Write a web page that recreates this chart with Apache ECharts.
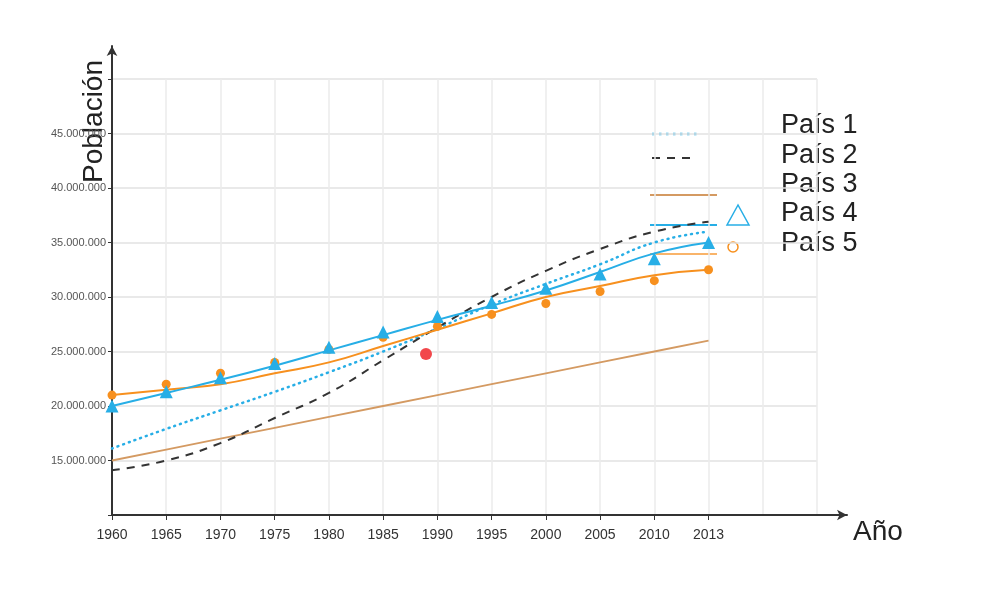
<!DOCTYPE html>
<html>
<head>
<meta charset="utf-8">
<script src="https://cdn.jsdelivr.net/npm/echarts@6/dist/echarts.min.js"></script>
<style>
  html, body { margin: 0; padding: 0; background: #fff; }
  #main { width: 1000px; height: 596px; }
</style>
</head>
<body>
<div id="main"></div>
<script>
// años (dos columnas vacías al final)
var years = ['1960', '1965', '1970', '1975', '1980', '1985', '1990', '1995', '2000', '2005', '2010', '2013', '', ''];

// población en millones
var pais1 = [16.1, 17.9, 19.6, 21.3, 23.1, 25.0, 27.1, 29.3, 31.2, 33.0, 35.0, 36.0];
var pais2 = [14.1, 15.0, 16.6, 18.9, 21.2, 24.2, 27.2, 30.0, 32.4, 34.4, 36.0, 36.9];
var pais3 = [15.0, 16.0, 17.0, 18.0, 19.0, 20.0, 21.0, 22.0, 23.0, 24.0, 25.0, 26.0];
var pais4Linea = [20.0, 21.2, 22.4, 23.7, 25.1, 26.5, 27.9, 29.2, 30.6, 32.3, 34.0, 35.0];
var pais4Puntos = [20.0, 21.3, 22.6, 23.9, 25.4, 26.8, 28.2, 29.5, 30.8, 32.1, 33.5, 35.0];
var pais5Linea = [21.0, 21.5, 22.0, 23.0, 24.0, 25.5, 27.0, 28.5, 30.0, 31.0, 32.0, 32.5];
var pais5Puntos = [21.0, 22.0, 23.0, 24.0, 25.2, 26.3, 27.3, 28.4, 29.4, 30.5, 31.5, 32.5];
// punto rojo suelto (posición en el eje de años, millones)
var puntoRojo = [[5.79, 24.76]];

var azul = '#27aee6';
var naranja = '#f7901e';
var marron = '#d49a62';

function miles(v) {
    return String(Math.round(v * 1e6)).replace(/\B(?=(\d{3})+(?!\d))/g, '.');
}

var myChart = echarts.init(document.getElementById('main'));
var option = {
    backgroundColor: '#fff',
    animation: false,
    textStyle: { fontFamily: 'Liberation Sans, Arial, sans-serif' },
    grid: [
        { left: 112, top: 79, width: 705, height: 436 },
        { left: 112, top: 46, width: 735, height: 469 }
    ],
    xAxis: [
        {
            type: 'category', gridIndex: 0, data: years, boundaryGap: false,
            axisLine: { lineStyle: { color: '#333', width: 2 } },
            axisTick: {
                length: 5, lineStyle: { color: '#333' },
                interval: function (i, v) { return v !== ''; }
            },
            axisLabel: { color: '#333', fontSize: 14, margin: 13, interval: 0 },
            splitLine: { show: true, lineStyle: { color: '#ebebeb', width: 1.5 } }
        },
        {
            type: 'value', gridIndex: 1, min: 0, max: 1,
            axisLine: { show: true, symbol: ['none', 'arrow'], symbolSize: [8, 10], lineStyle: { color: '#333', width: 2 } },
            axisTick: { show: false }, axisLabel: { show: false }, splitLine: { show: false }
        },
        {
            type: 'value', gridIndex: 0, min: 0, max: 13, show: false
        }
    ],
    yAxis: [
        {
            type: 'value', gridIndex: 0, min: 10, max: 50, interval: 5,
            axisLine: { show: true, lineStyle: { color: '#333', width: 2 } },
            axisTick: { show: true, length: 4, lineStyle: { color: '#333' } },
            axisLabel: {
                color: '#555', fontSize: 11, margin: 6,
                formatter: function (v) { return (v === 10 || v === 50) ? '' : miles(v); }
            },
            splitLine: { lineStyle: { color: '#e2e2e2', width: 1.5 } }
        },
        {
            type: 'value', gridIndex: 1, min: 0, max: 1,
            axisLine: { show: true, symbol: ['none', 'arrow'], symbolSize: [8, 10], lineStyle: { color: '#333', width: 2 } },
            axisTick: { show: false }, axisLabel: { show: false }, splitLine: { show: false }
        }
    ],
    series: [
        {
            name: 'País 3', type: 'line', data: pais3, showSymbol: false,
            lineStyle: { color: marron, width: 1.8 }, z: 2
        },
        {
            name: 'País 1', type: 'line', data: pais1, smooth: true, showSymbol: false,
            lineStyle: { color: azul, width: 2.5, type: [1, 5], cap: 'round' }, z: 3
        },
        {
            name: 'País 2', type: 'line', data: pais2, smooth: true, showSymbol: false,
            lineStyle: { color: '#333', width: 2, type: [8, 7] }, z: 3
        },
        {
            name: 'País 5', type: 'line', data: pais5Linea, smooth: true, showSymbol: false,
            lineStyle: { color: naranja, width: 2 }, z: 4
        },
        {
            name: 'País 4', type: 'line', data: pais4Linea, smooth: true, showSymbol: false,
            lineStyle: { color: azul, width: 2 }, z: 4
        },
        {
            name: 'País 5 puntos', type: 'scatter', data: pais5Puntos,
            symbol: 'circle', symbolSize: 9, itemStyle: { color: naranja, opacity: 1 }, z: 5
        },
        {
            name: 'País 4 puntos', type: 'scatter', data: pais4Puntos,
            symbol: 'triangle', symbolSize: 13, itemStyle: { color: azul, opacity: 1 }, z: 6
        },
        {
            name: 'Punto', type: 'scatter', xAxisIndex: 2, data: puntoRojo,
            symbolSize: 12, itemStyle: { color: '#f2474b', opacity: 1 }, z: 6
        }
    ],
    graphic: [
        { type: 'text', left: 80, top: 60, rotation: Math.PI / 2, style: { text: 'Población', fontSize: 28, fill: '#222', fontFamily: 'Liberation Sans' } },
        { type: 'text', left: 853, top: 518, style: { text: 'Año', fontSize: 28, fill: '#222', fontFamily: 'Liberation Sans' } },
        // leyenda
        { type: 'line', shape: { x1: 652, y1: 134, x2: 697, y2: 134 }, style: { stroke: azul, lineWidth: 2.5, lineDash: [2.5, 4.5] } },
        { type: 'line', shape: { x1: 652, y1: 158, x2: 697, y2: 158 }, style: { stroke: '#333', lineWidth: 2, lineDash: [8, 7] } },
        { type: 'line', shape: { x1: 650, y1: 195, x2: 717, y2: 195 }, style: { stroke: marron, lineWidth: 1.8 } },
        { type: 'line', shape: { x1: 650, y1: 225, x2: 717, y2: 225 }, style: { stroke: azul, lineWidth: 2 } },
        { type: 'polygon', shape: { points: [[738, 205], [727, 225], [749, 225]] }, style: { stroke: azul, fill: 'none', lineWidth: 1.5 } },
        { type: 'line', shape: { x1: 650, y1: 254, x2: 717, y2: 254 }, style: { stroke: '#f9b46a', lineWidth: 2 } },
        { type: 'circle', shape: { cx: 733, cy: 247, r: 5 }, style: { stroke: naranja, fill: 'none', lineWidth: 1.5 } },
        { type: 'text', left: 781, top: 112, style: { text: 'País 1', fontSize: 27, fill: '#222', fontFamily: 'Liberation Sans' } },
        { type: 'text', left: 781, top: 142, style: { text: 'País 2', fontSize: 27, fill: '#222', fontFamily: 'Liberation Sans' } },
        { type: 'text', left: 781, top: 171, style: { text: 'País 3', fontSize: 27, fill: '#222', fontFamily: 'Liberation Sans' } },
        { type: 'text', left: 781, top: 200, style: { text: 'País 4', fontSize: 27, fill: '#222', fontFamily: 'Liberation Sans' } },
        { type: 'text', left: 781, top: 230, style: { text: 'País 5', fontSize: 27, fill: '#222', fontFamily: 'Liberation Sans' } }
    ]
};
myChart.setOption(option);
</script>
</body>
</html>
